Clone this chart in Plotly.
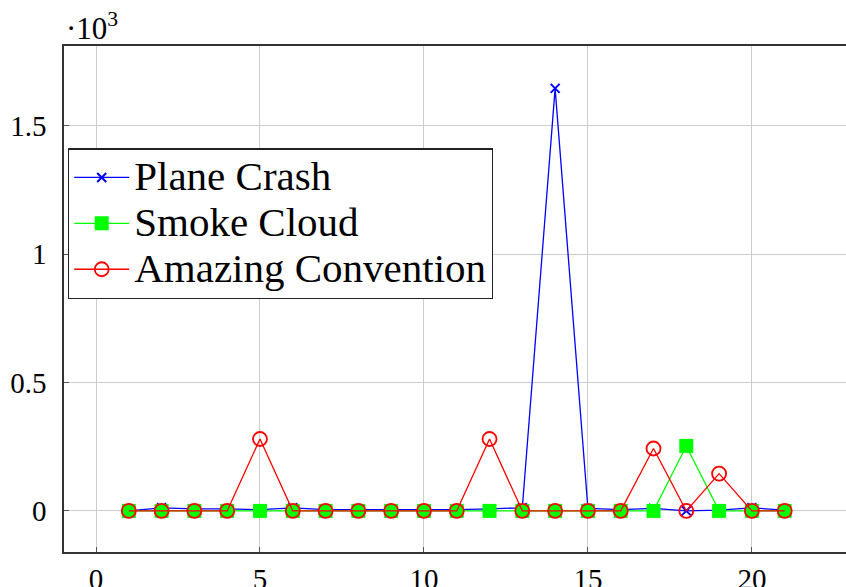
import plotly.graph_objects as go

x_vals = list(range(1, 22))
plane_crash = [0, 12, 8, 8, 5, 12, 5, 5, 5, 3, 5, 8, 12, 1645, 10, 5, 10, 0, 3, 12, 3]
smoke_cloud = [0, 0, 0, 0, 0, 0, 0, 0, 0, 0, 0, 0, 0, 0, 0, 0, 0, 253, 0, 0, 0]
amazing_convention = [0, 0, 0, 0, 280, 0, 0, 0, 0, 0, 0, 280, 0, 0, 0, 0, 243, 0, 145, 0, 0]
series_names = ["Plane Crash", "Smoke Cloud", "Amazing Convention"]

x_ticks = [0, 5, 10, 15, 20]
y_ticks = [0, 0.5, 1, 1.5]
y_tick_labels = ["0", "0.5", "1", "1.5"]

FONT = "Liberation Serif"

def k(v):
    return [a / 1000 for a in v]

def big(name):
    return '<span style="font-size:41px">' + name + "</span>"

fig = go.Figure()
fig.add_trace(go.Scatter(
    x=x_vals, y=k(plane_crash), mode="lines+markers", name=big(series_names[0]),
    line=dict(color="#0000ff", width=1.3),
    marker=dict(symbol="x-thin", size=9, line=dict(color="#0000ff", width=2)),
))
fig.add_trace(go.Scatter(
    x=x_vals, y=k(smoke_cloud), mode="lines+markers", name=big(series_names[1]),
    line=dict(color="#00ff00", width=1.3),
    marker=dict(symbol="square", size=14, color="#00ff00"),
))
fig.add_trace(go.Scatter(
    x=x_vals, y=k(amazing_convention), mode="lines+markers", name=big(series_names[2]),
    line=dict(color="#ff0000", width=1.3),
    marker=dict(symbol="circle-open", size=14, line=dict(color="#ff0000", width=1.8)),
))

fig.update_layout(
    width=846, height=587,
    margin=dict(l=64, r=0, t=46, b=35, autoexpand=False),
    paper_bgcolor="white", plot_bgcolor="white",
    font=dict(family=FONT, color="black", size=29),
    showlegend=True,
    legend=dict(
        x=0.005, y=0.798, xanchor="left", yanchor="top",
        bgcolor="white", bordercolor="#222222", borderwidth=1.3,
        font=dict(family=FONT, size=33, color="black"),
        itemwidth=55, tracegroupgap=0,
    ),
    xaxis=dict(
        range=[-0.976, 22.87], tickvals=x_ticks,
        showgrid=True, gridcolor="#cccccc", gridwidth=1,
        zeroline=False, showline=True, linecolor="#333333", linewidth=1.5,
        mirror=True, ticks="inside", ticklen=5, tickcolor="#555555",
        tickfont=dict(family=FONT, size=29), ticklabelstandoff=0,
    ),
    yaxis=dict(
        range=[-0.16, 1.81], tickvals=y_ticks, ticktext=y_tick_labels,
        showgrid=True, gridcolor="#cccccc", gridwidth=1,
        zeroline=False, showline=True, linecolor="#333333", linewidth=1.5,
        ticks="inside", ticklen=5, tickcolor="#555555",
        tickfont=dict(family=FONT, size=29), ticklabelstandoff=10,
    ),
    annotations=[dict(
        xref="paper", yref="paper", x=0.0, y=1.0, xanchor="left", yanchor="bottom",
        text="·10<sup>3</sup>", showarrow=False,
        font=dict(family=FONT, size=31, color="black"), yshift=-2,
    )],
)

fig.write_html(
    "out.html",
    config={"displayModeBar": False},
    post_script="document.body.style.margin='0';document.body.style.overflow='hidden';"
                "document.documentElement.style.overflow='hidden';",
)
